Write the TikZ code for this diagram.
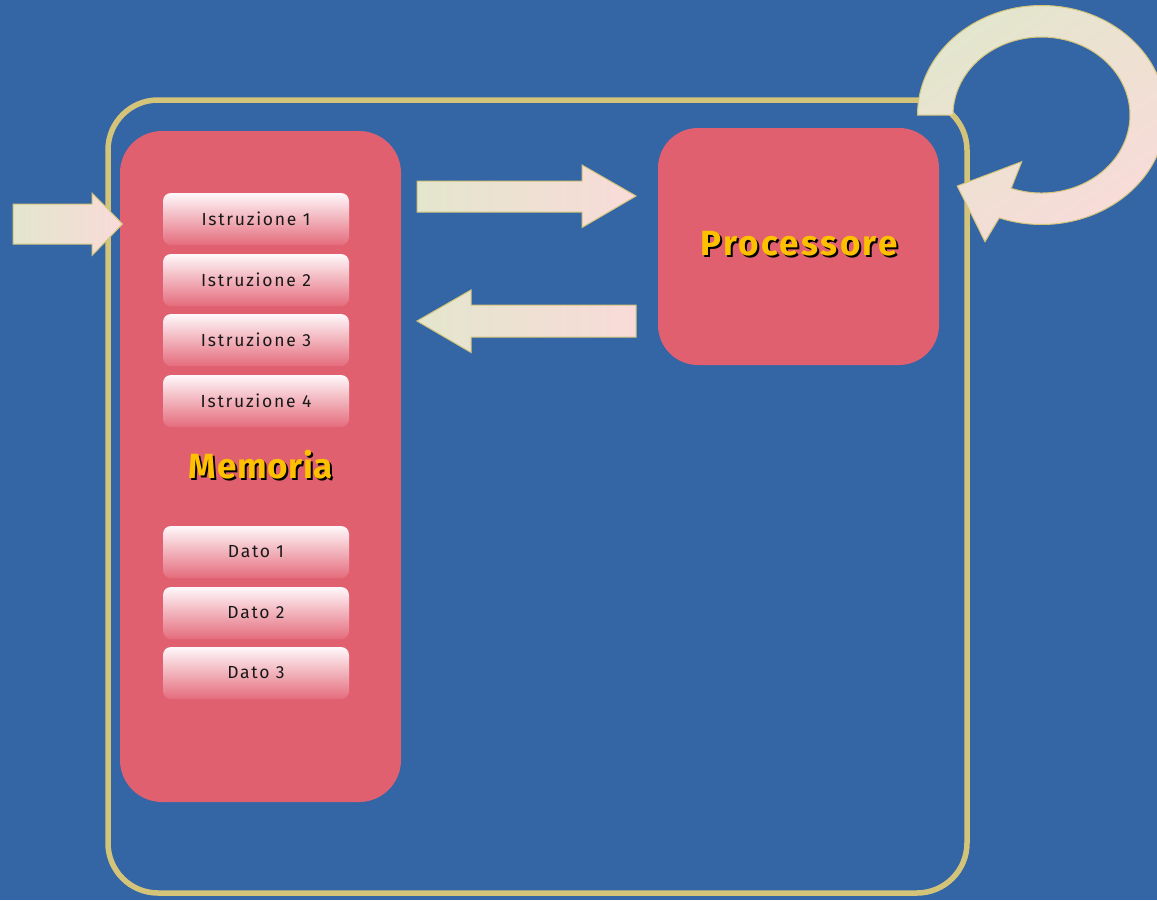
\documentclass[tikz,border=0pt]{standalone}
\usepackage{fontspec}
\setmainfont{Fira Sans}
\newfontfamily\memfont[LetterSpace=2]{Fira Sans}
\newfontfamily\procfont[LetterSpace=7]{Fira Sans}
\newfontfamily\boxfont[LetterSpace=10]{Fira Sans}
\definecolor{bg}{HTML}{3465A5}
\definecolor{rosa}{HTML}{E06070}
\definecolor{oro}{HTML}{D4C47A}
\definecolor{arrA}{HTML}{E3E6CD}
\definecolor{arrB}{HTML}{F9DBD9}
\definecolor{giallo}{HTML}{FFC000}
\definecolor{cellTop}{HTML}{FFF8FA}
\definecolor{cellBot}{HTML}{E46C7C}
\tikzset{
  frame/.style={draw=oro, line width=5.5pt, rounded corners=50pt, inner sep=0pt},
  unit/.style={fill=rosa, rounded corners=42pt, inner sep=0pt},
  cell/.style={top color=cellTop, bottom color=cellBot, rounded corners=8pt,
     minimum width=186pt, minimum height=52pt, inner sep=0pt,
     font=\boxfont\fontsize{17.5}{20}\selectfont, text=black!90},
  memtitle/.style={font=\memfont\fontsize{35}{40}\selectfont\bfseries},
  proctitle/.style={font=\procfont\fontsize{35}{40}\selectfont\bfseries},
  blockarrow/.style={draw=oro, line width=1pt, left color=arrA, right color=arrB}
}
\begin{document}
\begin{tikzpicture}[x=1pt,y=-1pt]
\fill[bg] (0,0) rectangle (1157,900);
\useasboundingbox (0,0) rectangle (1157,900);
% system frame
\node[frame, minimum width=859pt, minimum height=793pt] (sistema) at (537.5,496.5) {};
% memory and processor
\node[unit, minimum width=281pt, minimum height=671pt] (memoria) at (260.5,466.5) {};
\node[unit, rounded corners=40pt, minimum width=281pt, minimum height=237pt] (processore) at (798.5,246.5) {};
% cells
\node[cell] (i1) at (256,219) {Istruzione 1};
\node[cell] (i2) at (256,280) {Istruzione 2};
\node[cell] (i3) at (256,340) {Istruzione 3};
\node[cell] (i4) at (256,401) {Istruzione 4};
\node[cell] (d1) at (256,552) {Dato 1};
\node[cell] (d2) at (256,613) {Dato 2};
\node[cell] (d3) at (256,673) {Dato 3};
% titles
\node[memtitle, text=black] (memS) at (263,467) {Memoria};
\node[memtitle, text=giallo] (memT) at (261,465) {Memoria};
\node[proctitle, text=black] (procS) at (801,246) {Processore};
\node[proctitle, text=giallo] (procT) at (799,244) {Processore};
% input arrow
\draw[blockarrow] (13,204) -- (92,204) -- (92,193) -- (122.5,224) -- (92,255.5) -- (92,244) -- (13,244) -- cycle;
% memory -> processor
\draw[blockarrow] (417,181) -- (582,181) -- (582,165) -- (636,196) -- (582,227.5) -- (582,212) -- (417,212) -- cycle;
% processor -> memory
\draw[blockarrow] (636,305) -- (471,305) -- (471,290) -- (417,321) -- (471,352.5) -- (471,337) -- (636,337) -- cycle;
% loop arrow
\draw[draw=oro, line width=1pt, top color=arrA, bottom color=arrB, shading angle=35]
  (917.5,115) arc[start angle=180, end angle=470, x radius=124.2, y radius=109.5]
  -- (985,241.7) -- (957.3,186) -- (1021.7,161.7) -- (1011.2,188.3)
  arc[start angle=470, end angle=180, x radius=88.5, y radius=78] -- cycle;
\end{tikzpicture}
\end{document}
